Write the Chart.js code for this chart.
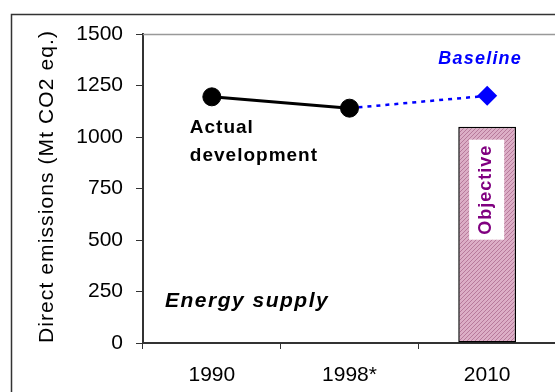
<!DOCTYPE html>
<html>
<head>
<meta charset="utf-8">
<script src="https://cdn.jsdelivr.net/npm/chart.js@4/dist/chart.umd.min.js"></script>
<style>
  html, body { margin: 0; padding: 0; background: #fff; overflow: hidden; }
  #wrap { position: relative; width: 600px; height: 392px; }
</style>
</head>
<body>
<div id="wrap"><canvas id="c"></canvas></div>
<script>
// Energy supply: direct emissions, Mt CO2 eq.
const years = ['1990', '1998*', '2010'];
const actualDevelopment = [1195, 1140, null];
const baseline = [null, 1140, 1200];
const objective = [null, null, 1050];
const yTicks = [0, 250, 500, 750, 1000, 1250, 1500];
const yTitle = 'Direct emissions (Mt CO2 eq.)';

const FONT = '"Liberation Sans", Arial, sans-serif';

// fine diagonal hatch for the objective bar
function hatch() {
  const p = document.createElement('canvas');
  p.width = 4; p.height = 4;
  const g = p.getContext('2d');
  g.fillStyle = '#dcaec6';
  g.fillRect(0, 0, 4, 4);
  g.strokeStyle = '#b77a9b';
  g.lineWidth = 1;
  g.beginPath();
  g.moveTo(0, 4); g.lineTo(4, 0);
  g.moveTo(-1, 1); g.lineTo(1, -1);
  g.moveTo(3, 5); g.lineTo(5, 3);
  g.stroke();
  return g.createPattern(p, 'repeat');
}

const ctx = document.getElementById('c').getContext('2d');

function spaced(c, px) { if ('letterSpacing' in c) c.letterSpacing = px + 'px'; }

const framePlugin = {
  id: 'frame',
  beforeDraw(chart) {
    const c = chart.ctx;
    c.save();
    c.strokeStyle = '#333';
    c.lineWidth = 1.5;
    c.strokeRect(11.5, 14.5, 700, 500);

    // y-axis title, slightly letter-spaced
    const a = chart.chartArea;
    c.translate(47, (a.top + a.bottom) / 2 - 2);
    c.rotate(-Math.PI / 2);
    spaced(c, 1.1);
    c.fillStyle = '#000';
    c.font = '21px ' + FONT;
    c.textAlign = 'center';
    c.textBaseline = 'middle';
    c.fillText(yTitle, 0, 0);
    spaced(c, 0);
    c.restore();
  }
};

const notesPlugin = {
  id: 'notes',
  afterDatasetsDraw(chart) {
    const c = chart.ctx;
    const x = chart.scales.x, y = chart.scales.y;
    const a = chart.chartArea;
    c.save();
    // plot-area top border
    c.strokeStyle = '#999';
    c.lineWidth = 1.5;
    c.beginPath();
    c.moveTo(a.left, a.top + 0.5);
    c.lineTo(a.right, a.top + 0.5);
    c.stroke();

    // label box inside the objective bar
    const bx = x.getPixelForValue(2);
    const bTop = y.getPixelForValue(objective[2]);
    c.fillStyle = '#fff';
    c.fillRect(bx - 18, bTop + 13, 35, 100);
    c.save();
    c.translate(bx - 1, bTop + 63);
    c.rotate(-Math.PI / 2);
    spaced(c, 1);
    c.fillStyle = '#800080';
    c.font = 'bold 18px ' + FONT;
    c.textAlign = 'center';
    c.textBaseline = 'middle';
    c.fillText('Objective', 0, 0);
    c.restore();

    // series annotations
    spaced(c, 1.2);
    c.fillStyle = '#0000ff';
    c.font = 'italic bold 18px ' + FONT;
    c.textAlign = 'center';
    c.textBaseline = 'alphabetic';
    c.fillText('Baseline', x.getPixelForValue(2) - 7, y.getPixelForValue(1500) + 30);

    spaced(c, 1.0);
    c.fillStyle = '#000';
    c.font = 'bold 19px ' + FONT;
    c.textAlign = 'left';
    c.fillText('Actual', x.getPixelForValue(0) - 22, y.getPixelForValue(1000) - 4);
    c.fillText('development', x.getPixelForValue(0) - 22, y.getPixelForValue(1000) + 24);

    spaced(c, 1.5);
    c.font = 'italic bold 21px ' + FONT;
    c.fillText('Energy supply', a.left + 22, y.getPixelForValue(250) + 15);
    spaced(c, 0);
    c.restore();
  }
};

new Chart(ctx, {
  type: 'bar',
  data: {
    labels: years,
    datasets: [
      {
        type: 'line',
        label: 'Actual development',
        data: actualDevelopment,
        borderColor: '#000',
        backgroundColor: '#000',
        borderWidth: 3,
        pointRadius: 9,
        pointBorderWidth: 1,
        pointStyle: 'circle',
        spanGaps: false,
        order: 1
      },
      {
        type: 'line',
        label: 'Baseline',
        data: baseline,
        borderColor: '#0000ff',
        backgroundColor: '#0000ff',
        borderWidth: 2.5,
        borderDash: [4, 5],
        pointRadius: [0, 0, 10],
        pointBorderWidth: 0,
        pointStyle: 'rectRot',
        order: 2
      },
      {
        type: 'bar',
        label: 'Objective',
        data: objective,
        backgroundColor: hatch(),
        borderColor: '#000',
        borderWidth: 1.5,
        borderSkipped: false,
        categoryPercentage: 1,
        barPercentage: 0.42,
        order: 3
      }
    ]
  },
  options: {
    responsive: true,
    maintainAspectRatio: false,
    animation: false,
    devicePixelRatio: 1,
    layout: { padding: { left: 0, top: 34, right: 44, bottom: 0 } },
    plugins: {
      legend: { display: false },
      tooltip: { enabled: false }
    },
    scales: {
      x: {
        type: 'category',
        offset: true,
        grid: {
          offset: true,
          drawOnChartArea: false,
          drawTicks: true,
          tickLength: 6,
          color: '#333',
          lineWidth: 1
        },
        border: { display: true, color: '#333', width: 2 },
        ticks: {
          color: '#000',
          font: { family: FONT, size: 21 },
          padding: 14,
          maxRotation: 0
        },
        afterFit(s) { s.height = 49; }
      },
      y: {
        min: 0,
        max: 1500,
        afterBuildTicks(s) { s.ticks = yTicks.map(v => ({ value: v })); },
        grid: {
          drawOnChartArea: false,
          drawTicks: true,
          tickLength: 7,
          color: '#333',
          lineWidth: 1
        },
        border: { display: true, color: '#333', width: 2 },
        ticks: {
          color: '#000',
          font: { family: FONT, size: 21 },
          padding: 13,
          callback: v => String(v)
        },
        afterFit(s) { s.width = 143; }
      }
    }
  },
  plugins: [framePlugin, notesPlugin]
});
</script>
</body>
</html>
